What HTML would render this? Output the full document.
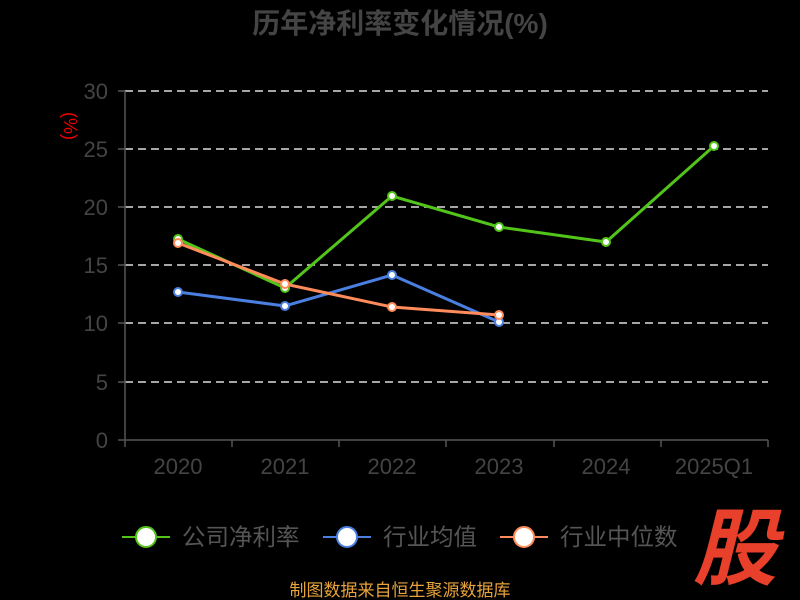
<!DOCTYPE html>
<html><head><meta charset="utf-8"><style>
html,body{margin:0;padding:0;background:#000;width:800px;height:600px;overflow:hidden}
svg text{font-family:"Liberation Sans","Noto Sans CJK SC",sans-serif}
</style></head><body>
<svg width="800" height="600" xmlns="http://www.w3.org/2000/svg">
<rect width="800" height="600" fill="#000"/>
<text x="400" y="33" text-anchor="middle" font-size="28" font-weight="bold" fill="#444">历年净利率变化情况(%)</text>
<text x="64" y="126" font-size="18" fill="#e00" transform="rotate(90 64 126)" text-anchor="middle">(%)</text>
<g stroke="#ddd" stroke-width="1.5" stroke-dasharray="8,5">
<line x1="125" y1="91" x2="768" y2="91"/><line x1="125" y1="149" x2="768" y2="149"/>
<line x1="125" y1="207" x2="768" y2="207"/><line x1="125" y1="265" x2="768" y2="265"/>
<line x1="125" y1="323" x2="768" y2="323"/><line x1="125" y1="382" x2="768" y2="382"/>
</g>
<g stroke="#555" stroke-width="1.5">
<line x1="125" y1="91" x2="125" y2="440"/><line x1="125" y1="440" x2="768" y2="440"/>
<line x1="118" y1="91" x2="125" y2="91"/><line x1="118" y1="149" x2="125" y2="149"/><line x1="118" y1="207" x2="125" y2="207"/><line x1="118" y1="265" x2="125" y2="265"/><line x1="118" y1="323" x2="125" y2="323"/><line x1="118" y1="382" x2="125" y2="382"/><line x1="118" y1="440" x2="125" y2="440"/>
<line x1="125" y1="440" x2="125" y2="447"/><line x1="232" y1="440" x2="232" y2="447"/><line x1="339" y1="440" x2="339" y2="447"/><line x1="446" y1="440" x2="446" y2="447"/><line x1="554" y1="440" x2="554" y2="447"/><line x1="661" y1="440" x2="661" y2="447"/><line x1="768" y1="440" x2="768" y2="447"/>
</g>
<g font-size="22" fill="#444" text-anchor="end">
<text x="108" y="99">30</text><text x="108" y="157">25</text><text x="108" y="215">20</text><text x="108" y="273">15</text><text x="108" y="331">10</text><text x="108" y="390">5</text><text x="108" y="448">0</text>
</g>
<g font-size="22" fill="#444" text-anchor="middle">
<text x="178" y="474">2020</text><text x="285" y="474">2021</text><text x="392" y="474">2022</text><text x="499" y="474">2023</text><text x="606" y="474">2024</text><text x="714" y="474">2025Q1</text>
</g>
<g fill="#fff" stroke-width="2">
<polyline fill="none" stroke="#52c41a" stroke-width="3" points="178,239 285,288 392,196 499,227 606,242 714,146"/>
<polyline fill="none" stroke="#4a7fe0" stroke-width="3" points="178,292 285,306 392,275 499,322"/>
<polyline fill="none" stroke="#ff8c5a" stroke-width="3" points="178,243 285,284 392,307 499,315"/>
<g stroke="#52c41a"><circle cx="178" cy="239" r="4"/><circle cx="285" cy="288" r="4"/><circle cx="392" cy="196" r="4"/><circle cx="499" cy="227" r="4"/><circle cx="606" cy="242" r="4"/><circle cx="714" cy="146" r="4"/></g>
<g stroke="#4a7fe0"><circle cx="178" cy="292" r="4"/><circle cx="285" cy="306" r="4"/><circle cx="392" cy="275" r="4"/><circle cx="499" cy="322" r="4"/></g>
<g stroke="#ff8c5a"><circle cx="178" cy="243" r="4"/><circle cx="285" cy="284" r="4"/><circle cx="392" cy="307" r="4"/><circle cx="499" cy="315" r="4"/></g>
</g>
<g stroke-width="2" fill="#fff">
<line x1="122" y1="537" x2="170" y2="537" stroke="#52c41a"/><circle cx="146" cy="537" r="10" stroke="#52c41a"/>
<line x1="323" y1="537" x2="371" y2="537" stroke="#4a7fe0"/><circle cx="347" cy="537" r="10" stroke="#4a7fe0"/>
<line x1="500" y1="537" x2="548" y2="537" stroke="#ff8c5a"/><circle cx="524" cy="537" r="10" stroke="#ff8c5a"/>
</g>
<g font-size="23.5" fill="#555">
<text x="182" y="545">公司净利率</text><text x="383" y="545">行业均值</text><text x="560" y="545">行业中位数</text>
</g>
<text x="735" y="578" text-anchor="middle" font-size="84" font-weight="bold" fill="#e8402a" font-style="italic">股</text>
<text x="400" y="596" text-anchor="middle" font-size="17" fill="#e8a33a">制图数据来自恒生聚源数据库</text>
</svg>
</body></html>
